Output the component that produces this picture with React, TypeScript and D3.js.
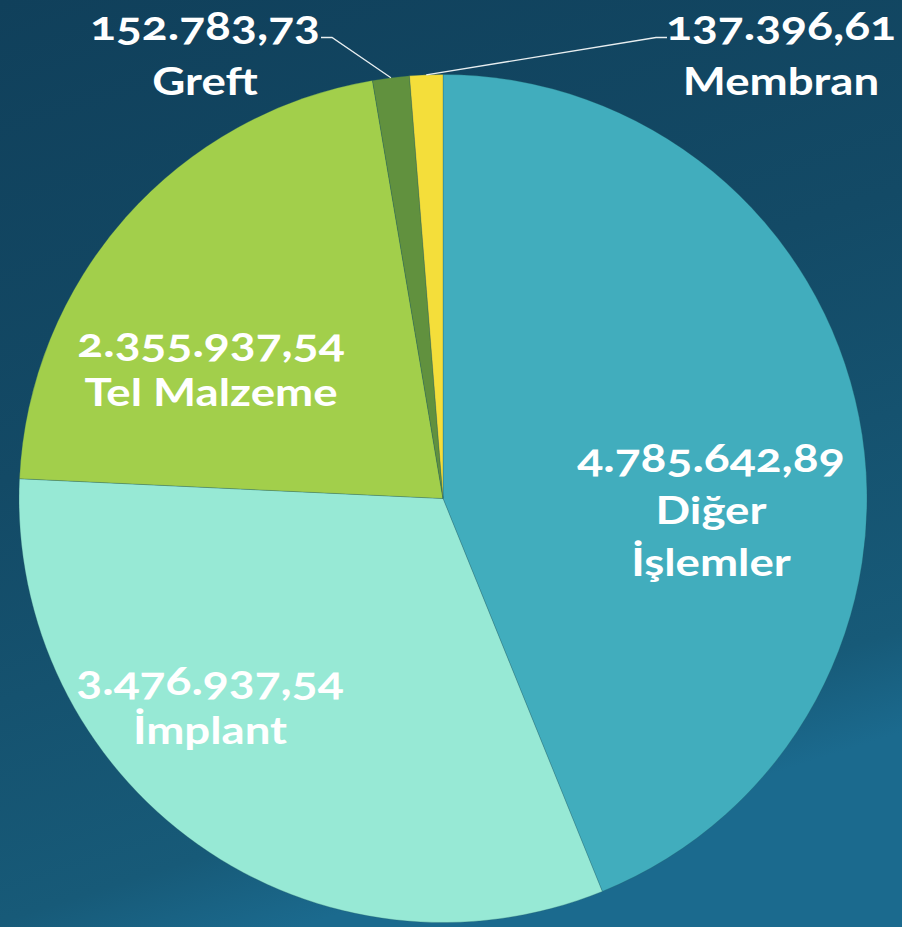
import React from "react";
import * as d3 from "d3";

const categories = ["Diğer İşlemler", "İmplant", "Tel Malzeme", "Greft", "Membran"];
const values = [4785642.89, 3476937.54, 2355937.54, 152783.73, 137396.61];
const valueLabels = ["4.785.642,89", "3.476.937,54", "2.355.937,54", "152.783,73", "137.396,61"];
const nameLines = [["Diğer", "İşlemler"], ["İmplant"], ["Tel Malzeme"], ["Greft"], ["Membran"]];
const colors = ["#41adbd", "#97e9d5", "#a2cf4b", "#61913e", "#f4de3a"];

const W = 902;
const H = 927;
const cx = 443;
const cy = 498.5;
const R = 424;

// label placement (layout)
const labelPos: { x: number; y: number; dy: number; outside: boolean }[] = [
  { x: 711, y: 472, dy: 52, outside: false },
  { x: 210, y: 695, dy: 49, outside: false },
  { x: 211, y: 357, dy: 49, outside: false },
  { x: 205, y: 40, dy: 55, outside: true },
  { x: 781, y: 40, dy: 55, outside: true },
];

export default function App() {
  const pie = d3
    .pie<number>()
    .sort(null)
    .startAngle(0)
    .endAngle(2 * Math.PI)
    .value((d) => d);
  const arcs = pie(values);
  const arc = d3.arc<d3.PieArcDatum<number>>().innerRadius(0).outerRadius(R);
  const numFs = 40;
  const nameFs = 38;
  const sx = 1.2;
  const font = "Lato, 'Open Sans', sans-serif";

  return (
    <svg
      width={W}
      height={H}
      style={{ position: "absolute", left: 0, top: 0, display: "block" }}
    >
      <defs>
        <linearGradient id="bg" gradientUnits="userSpaceOnUse" x1={0} y1={0} x2={300} y2={927}>
          <stop offset="0" stopColor="#10405b" />
          <stop offset="0.47" stopColor="#134a66" />
          <stop offset="0.9" stopColor="#175a78" />
          <stop offset="1" stopColor="#1b6a8e" />
        </linearGradient>
      </defs>
      <rect x={0} y={0} width={W} height={H} fill="url(#bg)" />
      <g transform={`translate(${cx},${cy})`}>
        {arcs.map((a, i) => (
          <path
            key={categories[i]}
            d={arc(a) || ""}
            fill={colors[i]}
            stroke="rgba(30,90,100,0.35)"
            strokeWidth={0.8}
          />
        ))}
      </g>
      {arcs.map((a, i) => {
        const lp = labelPos[i];
        if (!lp.outside) return null;
        const mid = (a.startAngle + a.endAngle) / 2;
        const px = cx + R * Math.sin(mid);
        const py = cy - R * Math.cos(mid);
        const left = lp.x < cx;
        const ly = 37.5;
        const ex = left ? 321 : 667;
        const kx = left ? 332 : 656;
        return (
          <polyline
            key={"l" + i}
            points={`${px},${py} ${kx},${ly} ${ex},${ly}`}
            fill="none"
            stroke="#e8eef0"
            strokeWidth={1.3}
          />
        );
      })}
      {arcs.map((a, i) => {
        const lp = labelPos[i];
        const lines = [valueLabels[i], ...nameLines[i]];
        return (
          <g key={"t" + i}>
            {lines.map((t, k) => (
              <text
                key={k}
                transform={`translate(${lp.x},${lp.y + k * lp.dy}) scale(${sx},1)`}
                textAnchor="middle"
                fill="#ffffff"
                fontFamily={font}
                fontWeight={700}
                fontSize={k === 0 ? numFs : nameFs}
                style={{ fontVariantNumeric: "oldstyle-nums" }}
              >
                {t}
              </text>
            ))}
          </g>
        );
      })}
    </svg>
  );
}
